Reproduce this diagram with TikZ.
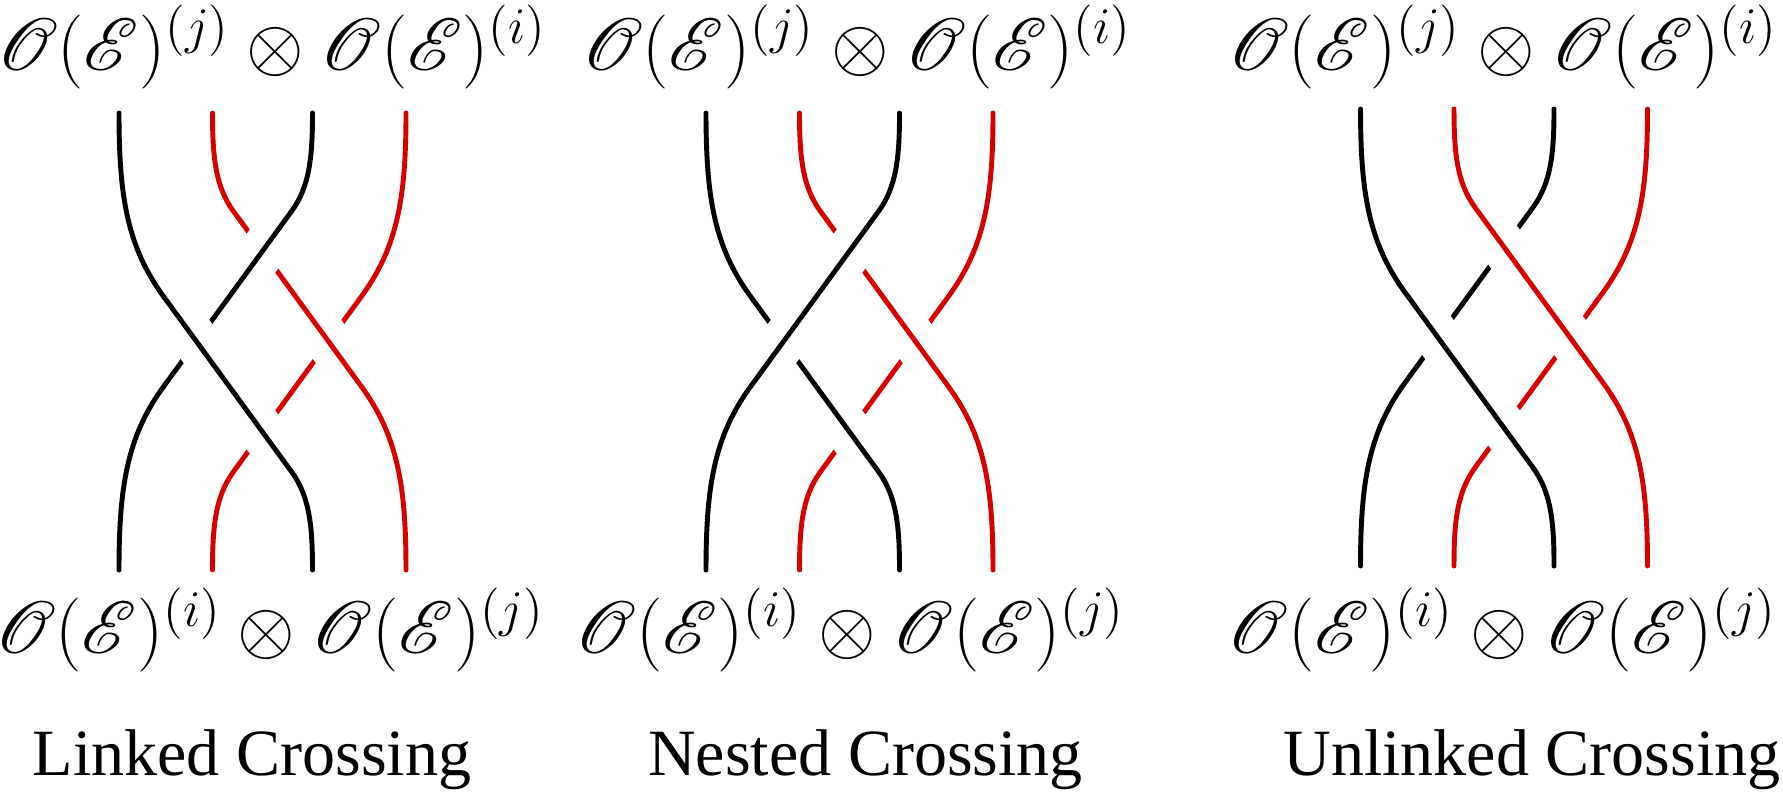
\documentclass[tikz,border=0pt]{standalone}
\usepackage{amsmath}
\usepackage{mathrsfs}
\usepackage{fontspec}
\newfontfamily\capfont{Liberation Serif}
\definecolor{braidred}{RGB}{214,0,0}

% one strand, from top left to bottom right (pixel units, y down)
\newcommand{\strandpath}{(-143.5,-228.5) .. controls (-143.5,-145) and (-135.4,-95) .. (-98.9,-45) -- (28.9,130) .. controls (47.2,155) and (50,185) .. (50,228.5)}

\tikzset{
  wire/.style={line width=1.4pt, line cap=round,
    preaction={draw=white, line width=4.6mm, line cap=butt}},
  blackwire/.style={wire, draw=black},
  redwire/.style={wire, draw=braidred},
  % the four strands are mirror images of one another
  toA/.style={},
  toB/.style={xscale=-1, yscale=-1},
  toC/.style={yscale=-1},
  toD/.style={xscale=-1},
  tensor/.style={anchor=base, inner sep=0pt, scale=1.015, font=\huge},
  crosstitle/.style={anchor=base, inner sep=0pt, font=\capfont\fontsize{18.8}{22}\selectfont},
}

\begin{document}
\begin{tikzpicture}[x=0.1mm, y=-0.1mm]
	\useasboundingbox (0,0) rectangle (1783,792);
	% Linked crossing
	\begin{scope}[shift={(262.5,341.5)}]
		\draw[redwire, toD] \strandpath;
		\draw[redwire, toB] \strandpath;
		\draw[blackwire, toC] \strandpath;
		\draw[blackwire, toA] \strandpath;
	\end{scope}
	% Nested crossing
	\begin{scope}[shift={(849.5,341.5)}]
		\draw[redwire, toD] \strandpath;
		\draw[blackwire, toA] \strandpath;
		\draw[redwire, toB] \strandpath;
		\draw[blackwire, toC] \strandpath;
	\end{scope}
	% Unlinked crossing
	\begin{scope}[shift={(1504,337.5)}]
		\draw[blackwire, toC] \strandpath;
		\draw[redwire, toD] \strandpath;
		\draw[blackwire, toA] \strandpath;
		\draw[redwire, toB] \strandpath;
	\end{scope}
	% Tensor products, top and bottom
	\node[tensor] (top1) at (272,70) {$\mathscr{O}(\mathscr{E})^{(j)}\otimes\mathscr{O}(\mathscr{E})^{(i)}$};
	\node[tensor] (top2) at (857,70) {$\mathscr{O}(\mathscr{E})^{(j)}\otimes\mathscr{O}(\mathscr{E})^{(i)}$};
	\node[tensor] (top3) at (1503,70) {$\mathscr{O}(\mathscr{E})^{(j)}\otimes\mathscr{O}(\mathscr{E})^{(i)}$};
	\node[tensor] (bot1) at (270,653) {$\mathscr{O}(\mathscr{E})^{(i)}\otimes\mathscr{O}(\mathscr{E})^{(j)}$};
	\node[tensor] (bot2) at (850.5,653) {$\mathscr{O}(\mathscr{E})^{(i)}\otimes\mathscr{O}(\mathscr{E})^{(j)}$};
	\node[tensor] (bot3) at (1502.5,653) {$\mathscr{O}(\mathscr{E})^{(i)}\otimes\mathscr{O}(\mathscr{E})^{(j)}$};
	% Titles
	\node[crosstitle] (title1) at (252,775) {Linked Crossing};
	\node[crosstitle] (title2) at (865.5,775) {Nested Crossing};
	\node[crosstitle] (title3) at (1532,775) {Unlinked Crossing};
\end{tikzpicture}
\end{document}
